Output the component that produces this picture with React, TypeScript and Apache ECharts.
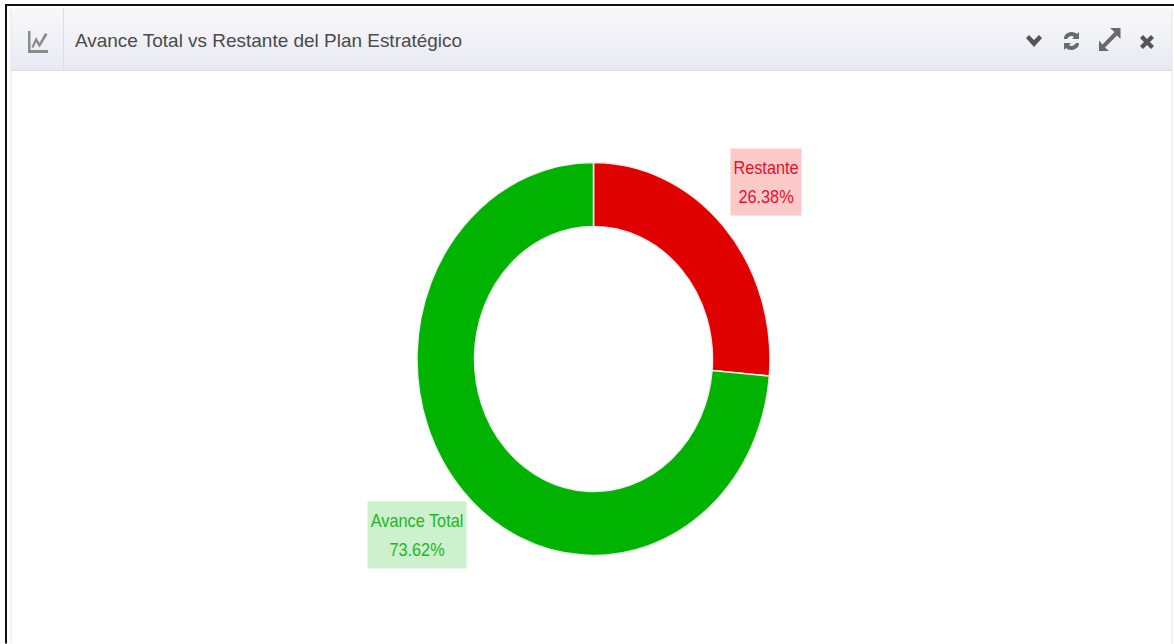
import React, { useEffect, useRef } from "react";
import * as echarts from "echarts";

const categories = ["Restante", "Avance Total"];
const values = [26.38, 73.62];
const sliceColors = ["#e00000", "#00b300"];
const labelColors = ["#e8102a", "#20b820"];
const labelBackgrounds = ["#fdcaca", "#cdf0cd"];
const titleText = "Avance Total vs Restante del Plan Estratégico";

const H = 644;
const S = 1.1133;
const labelCenters = [
  [766, 182],
  [417, 535],
];

const chartIcon = "M28 31H30.5V50H48V53H28ZM31.5 47L36 37L39.5 43L45 33L47.5 34.5L39.5 47.5L36 42L33.5 48Z";
const chevronIcon = "M1026 38L1029 35L1034 40L1039 35L1042 38L1034 47Z";
const refreshIcon =
  "M1064 39C1064 34 1068 32 1072 32C1074 32 1076 33 1077 34L1079 32V39H1072L1074 37C1072 35 1069 36 1067 39ZM1079 43C1079 48 1075 50 1071 50C1069 50 1067 49 1066 48L1064 50V43H1071L1069 45C1071 47 1074 46 1076 43Z";
const expandIcon =
  "M1110 28H1120.5V39L1117 35.5L1105 47.5L1109 51H1099V40.5L1102.5 44.5L1114.5 32Z";
const closeIcon =
  "M1140 38L1143 35L1147 39L1151 35L1154 38L1150 42L1154 46L1151 49L1147 45L1143 49L1140 46L1144 42Z";

echarts.graphic.registerShape("iconChart", echarts.graphic.extendPath(chartIcon, {}) as any);
echarts.graphic.registerShape("iconChevron", echarts.graphic.extendPath(chevronIcon, {}) as any);
echarts.graphic.registerShape("iconRefresh", echarts.graphic.extendPath(refreshIcon, {}) as any);
echarts.graphic.registerShape("iconExpand", echarts.graphic.extendPath(expandIcon, {}) as any);
echarts.graphic.registerShape("iconClose", echarts.graphic.extendPath(closeIcon, {}) as any);

export default function App() {
  const ref = useRef<HTMLDivElement>(null);
  useEffect(() => {
    const chart = echarts.init(ref.current!, undefined, { renderer: "svg" });
    chart.setOption({
      animation: false,
      backgroundColor: "#ffffff",
      graphic: [
        {
          type: "group",
          x: 0,
          y: 0,
          scaleY: 1 / S,
          silent: true,
          children: [
            { type: "rect", z: 1, shape: { x: 6, y: 5, width: 1172, height: 660 }, style: { fill: "#ffffff", stroke: "#111111", lineWidth: 2 } },
            {
              type: "rect",
              z: 2,
              shape: { x: 11, y: 8, width: 1161, height: 62, r: [5, 5, 0, 0] },
              style: {
                fill: new echarts.graphic.LinearGradient(0, 0, 0, 1, [
                  { offset: 0, color: "#f8f8fb" },
                  { offset: 1, color: "#e9e9f3" },
                ]),
              },
            },
            { type: "line", z: 3, shape: { x1: 11, y1: 70.5, x2: 1172, y2: 70.5 }, style: { stroke: "#dcdce0", lineWidth: 1 } },
            { type: "line", z: 3, shape: { x1: 63.5, y1: 8, x2: 63.5, y2: 70 }, style: { stroke: "#dcdce2", lineWidth: 1 } },
            { type: "line", z: 3, shape: { x1: 11, y1: 8, x2: 11, y2: 644 }, style: { stroke: "#e4e4ea", lineWidth: 1 } },
            { type: "line", z: 3, shape: { x1: 1172, y1: 8, x2: 1172, y2: 644 }, style: { stroke: "#e4e4ea", lineWidth: 1 } },
            { type: "iconChart", z: 4, style: { fill: "#8a8a8a" } },
            { type: "iconChevron", z: 4, style: { fill: "#555555" } },
            { type: "iconRefresh", z: 4, style: { fill: "#6a6a6a" } },
            { type: "iconExpand", z: 4, style: { fill: "#6a6a6a" } },
            { type: "iconClose", z: 4, style: { fill: "#555555" } },
            {
              type: "text",
              z: 4,
              x: 75,
              y: 41,
              scaleX: 1.084,
              style: {
                text: titleText,
                fill: "#4a4a4a",
                font: '17.5px "Liberation Sans", Arial, sans-serif',
                verticalAlign: "middle",
                align: "left",
              },
            },
          ],
        },
      ],
      series: [
        {
          type: "pie",
          z: 10,
          center: [593.5, 359 / S],
          radius: [119, 176.5],
          startAngle: 90,
          clockwise: true,
          data: categories.map((name, i) => ({
            name,
            value: values[i],
            itemStyle: { color: sliceColors[i] },
            label: { color: labelColors[i], backgroundColor: labelBackgrounds[i] },
          })),
          itemStyle: { borderColor: "#eeeeee", borderWidth: 1.5 },
          labelLine: { show: false },
          label: {
            show: true,
            position: "outside",
            formatter: (p: any) => `${p.name}\n${p.value.toFixed(2)}%`,
            fontFamily: '"Liberation Sans", Arial, sans-serif',
            fontSize: 16.3,
            lineHeight: 26,
            padding: [4, 3, 4, 3],
            align: "center",
          },
          labelLayout: (p: any) => ({
            x: labelCenters[p.dataIndex][0],
            y: labelCenters[p.dataIndex][1] / S,
            align: "center",
            verticalAlign: "middle",
          }),
        },
      ],
    });
    return () => chart.dispose();
  }, []);
  return (
    <div style={{ position: "fixed", left: 0, top: 0, width: 1174, height: H, overflow: "hidden", background: "#fff" }}>
      <div
        ref={ref}
        style={{ width: 1174, height: H / S, transform: `scaleY(${S})`, transformOrigin: "0 0" }}
      />
    </div>
  );
}
